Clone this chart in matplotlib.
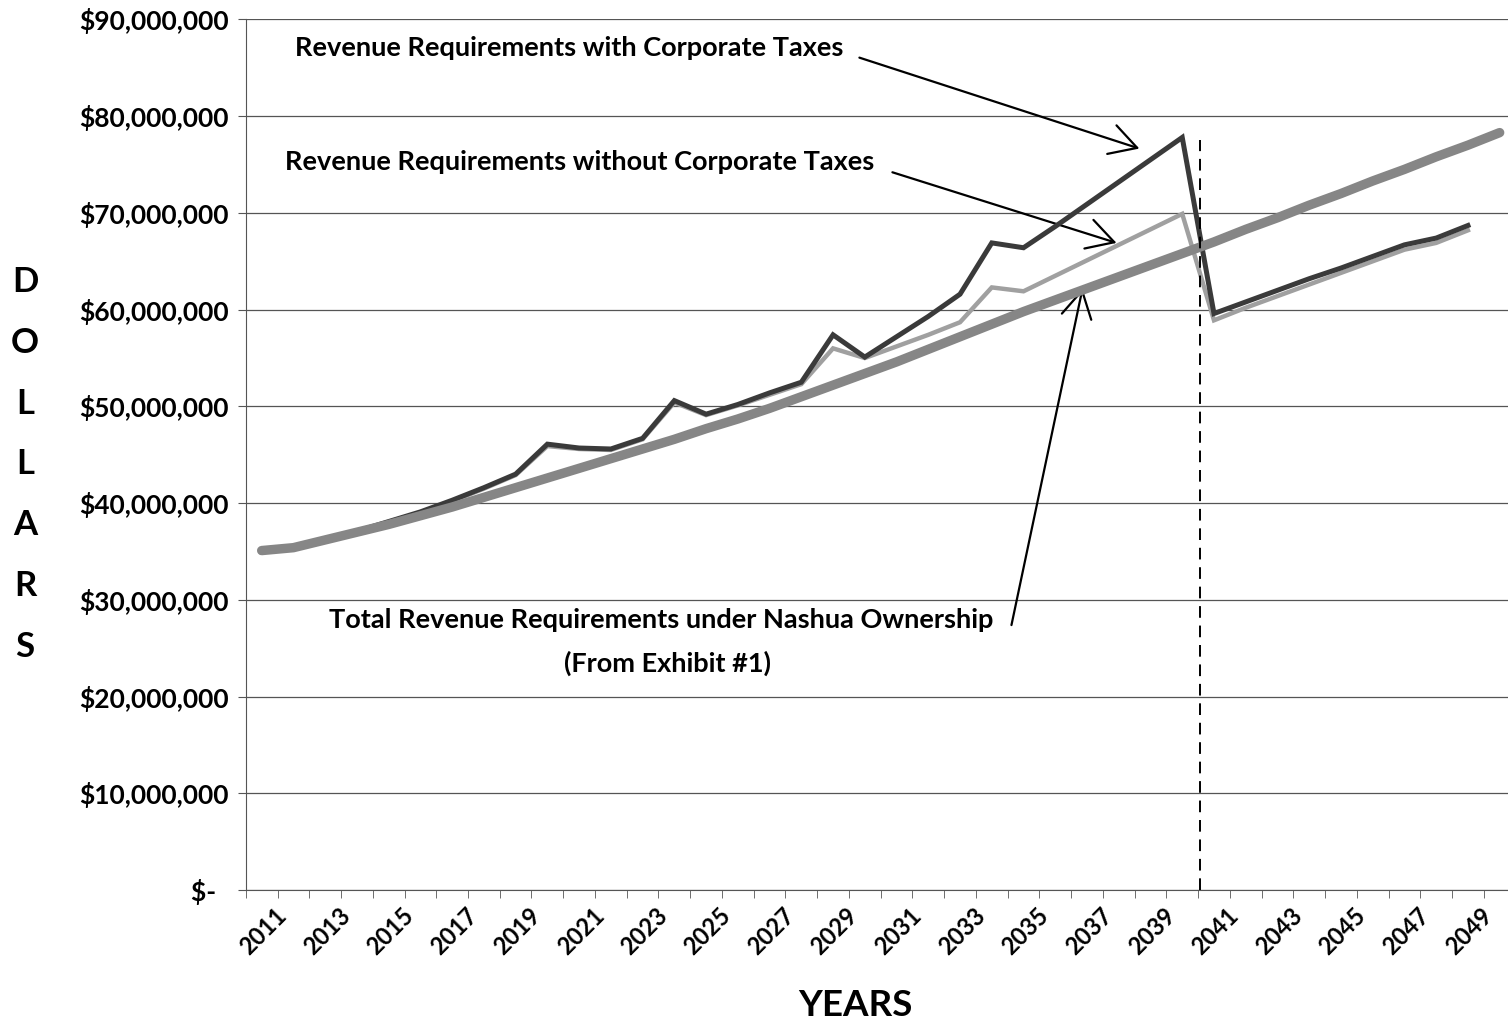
import matplotlib
matplotlib.use('Agg')
import matplotlib.pyplot as plt
import matplotlib.ticker as mticker
import matplotlib.transforms as mtransforms
import numpy as np

# values, in millions of dollars
years = list(range(2011, 2051))

nashua = [35.1, 35.4, 36.2, 37.0, 37.8, 38.7, 39.6, 40.6, 41.6, 42.6,
          43.6, 44.6, 45.6, 46.6, 47.7, 48.7, 49.8, 51.0, 52.2, 53.4,
          54.6, 55.9, 57.2, 58.5, 59.8, 61.0, 62.2, 63.4, 64.6, 65.8,
          67.0, 68.3, 69.5, 70.8, 72.0, 73.3, 74.5, 75.8, 77.0, 78.3]

with_tax = [35.0, 35.3, 36.2, 37.1, 38.1, 39.1, 40.3, 41.6, 43.0, 46.1,
            45.7, 45.6, 46.7, 50.6, 49.2, 50.2, 51.4, 52.5, 57.4, 55.1,
            57.2, 59.3, 61.6, 66.9, 66.4, 68.6, 70.9, 73.2, 75.5, 77.8,
            59.6, 60.8, 62.0, 63.2, 64.3, 65.5, 66.7, 67.4, 68.7]

without_tax = [35.0, 35.3, 36.1, 37.0, 38.0, 39.0, 40.2, 41.5, 42.9, 45.9,
               45.6, 45.5, 46.6, 50.4, 49.1, 50.1, 51.2, 52.3, 56.0, 55.0,
               56.2, 57.4, 58.7, 62.3, 61.9, 63.5, 65.1, 66.7, 68.3, 69.9,
               58.9, 60.2, 61.4, 62.6, 63.8, 65.0, 66.2, 66.9, 68.2]

plt.rcParams['font.family'] = ['Lato', 'DejaVu Sans']

fig = plt.figure(figsize=(15.08, 10.22), dpi=100)
ax = fig.add_axes([0.163, 0.129, 0.842, 0.852])

x_all = np.arange(len(years))
x_rev = np.arange(len(with_tax))

ax.plot(x_rev, without_tax, color='#a0a0a0', lw=3.2, solid_joinstyle='miter', zorder=3)
ax.plot(x_rev, with_tax, color='#3a3a3a', lw=3.6, solid_joinstyle='miter', zorder=4)
ax.plot(x_all, nashua, color='#868686', lw=6.8, solid_capstyle='round', zorder=5)

# dashed marker at end of 2040
ax.plot([29.55, 29.55], [0, 77.5], color='black', lw=1.4, dashes=(6, 4), zorder=6)

ax.set_xlim(-0.5, 39.5)
ax.set_ylim(0, 90)

ax.set_yticks(np.arange(0, 91, 10))
def money(v, pos):
    if v == 0:
        return '$-  '
    return '${:,.0f}'.format(v * 1e6)
ax.yaxis.set_major_formatter(mticker.FuncFormatter(money))
ax.grid(axis='y', color='#555555', lw=0.9)
ax.set_axisbelow(True)

ax.set_xticks(x_all[::2])
ax.set_xticklabels([str(y) for y in years[::2]], rotation=45, ha='right',
                   rotation_mode='anchor', fontsize=17, fontweight='bold')
ax.set_xticks(np.arange(-0.5, 40, 1), minor=True)
ax.tick_params(axis='x', which='major', length=0, pad=10)
ax.tick_params(axis='x', which='minor', length=6, direction='out', color='#555555')
ax.tick_params(axis='y', length=6, direction='out', color='#555555', pad=6)
for lab in ax.get_yticklabels():
    lab.set_fontsize(19)
    lab.set_fontweight('bold')
offset = mtransforms.ScaledTranslation(13 / 100, 0, fig.dpi_scale_trans)
for lab in ax.get_xticklabels():
    lab.set_transform(lab.get_transform() + offset)

for side in ['top', 'right']:
    ax.spines[side].set_visible(False)
ax.spines['left'].set_color('#555555')
ax.spines['bottom'].set_color('#555555')

# annotations
arrow = dict(arrowstyle='->,head_length=0.8,head_width=0.45', color='black',
             lw=1.6, shrinkA=0, shrinkB=0, mutation_scale=24)
ax.annotate('', xy=(27.65, 76.65), xytext=(18.83, 86.05), arrowprops=arrow)
ax.annotate('', xy=(26.93, 66.9), xytext=(19.87, 74.2), arrowprops=arrow)
ax.annotate('', xy=(25.86, 62.2), xytext=(23.62, 27.4), arrowprops=arrow)

ax.text(9.7, 87.0, 'Revenue Requirements with Corporate Taxes', ha='center',
        va='center', fontsize=19.5, fontweight='bold')
ax.text(10.02, 75.3, 'Revenue Requirements without Corporate Taxes', ha='center',
        va='center', fontsize=19.5, fontweight='bold')
ax.text(12.6, 27.9, 'Total Revenue Requirements under Nashua Ownership', ha='center',
        va='center', fontsize=19.5, fontweight='bold')
ax.text(12.8, 23.45, '(From Exhibit #1)', ha='center', va='center',
        fontsize=19.5, fontweight='bold')

# axis titles
for i, ch in enumerate('DOLLARS'):
    fig.text(25 / 1508, 1 - (282 + i * 60.8) / 1022, ch, ha='center', va='center',
             fontsize=25, fontweight='bold')
fig.text(855 / 1508, 1 - 1005 / 1022, 'YEARS', ha='center', va='center',
         fontsize=26.5, fontweight='bold')

fig.savefig('out.png', dpi=100)
